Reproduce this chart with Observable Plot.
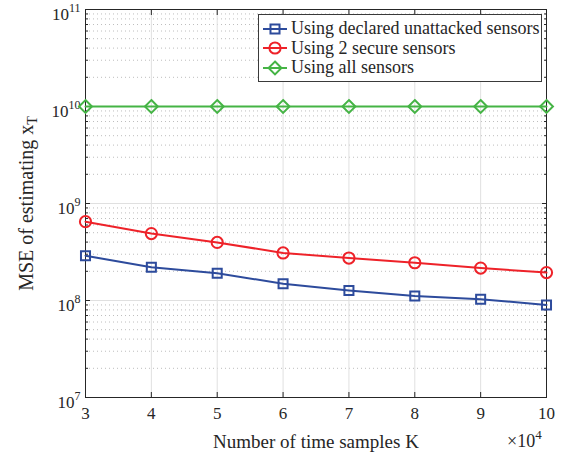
<!DOCTYPE html>
<html>
<head>
<meta charset="utf-8">
<script src="https://cdn.jsdelivr.net/npm/d3@7"></script>
<script src="https://cdn.jsdelivr.net/npm/@observablehq/plot@0.6"></script>
<style>
  body { margin: 0; background: #fff; }
  #wrap { position: relative; width: 564px; height: 452px; overflow: hidden; font-family: "Liberation Serif", "Times New Roman", serif; color: #262626; }
  #legend { position: absolute; left: 258px; top: 14px; width: 284px; height: 68px; box-sizing: border-box;
            border: 1px solid #3a3a3a; background: #fff; padding-top: 4px; }
  .row { display: flex; align-items: center; height: 19.5px; font-size: 18px; white-space: nowrap; }
  .row svg { margin-left: 3px; margin-right: 3px; flex: none; }
  #mult { position: absolute; left: 507px; top: 435px; font-size: 18px; line-height: 12px; white-space: nowrap; }
  #mult sup { font-size: 13px; line-height: 0; vertical-align: 0; position: relative; top: -8px; }
</style>
</head>
<body>
<div id="wrap"><div id="legend"></div><div id="mult"></div></div>
<script>
// ---- data ----
const K = [3, 4, 5, 6, 7, 8, 9, 10];
const xTickLabels = ["3", "4", "5", "6", "7", "8", "9", "10"];
const mseDeclared = [2.9e8, 2.2e8, 1.91e8, 1.49e8, 1.27e8, 1.11e8, 1.03e8, 9.0e7];
const mseSecure   = [6.5e8, 4.9e8, 3.97e8, 3.09e8, 2.74e8, 2.45e8, 2.16e8, 1.94e8];
const mseAll      = [1.0e10, 1.0e10, 1.0e10, 1.0e10, 1.0e10, 1.0e10, 1.0e10, 1.0e10];
const seriesNames = ["Using declared unattacked sensors", "Using 2 secure sensors", "Using all sensors"];
const seriesColors = ["#2d4b9c", "#ee2229", "#45b445"];
const seriesSymbols = ["square", "circle", "diamond2"];
const yDecades = [1e7, 1e8, 1e9, 1e10, 1e11];
const xLabel = "Number of time samples K";
const yLabel = "MSE of estimating x";
const yLabelSub = "T";
const xMultiplierBase = "×10";
const xMultiplierExp = "4";

// ---- derived ----
const yMinor = d3.range(7, 11).flatMap(e => d3.range(2, 10).map(m => m * 10 ** e));
const seriesValues = [mseDeclared, mseSecure, mseAll];
const rows = seriesValues.flatMap((vals, i) => K.map((k, j) => ({K: k, mse: vals[j], series: seriesNames[i]})));
const symR = {square: 5.1, circle: 5.6, diamond2: 5.8};
const ink = "#262626";
const serif = "'Liberation Serif', 'Times New Roman', serif";
const blank = () => "";

const seriesMarks = seriesNames.flatMap((name, i) => {
  const d = rows.filter(r => r.series === name);
  return [
    Plot.line(d, {x: "K", y: "mse", stroke: seriesColors[i], strokeWidth: 2}),
    Plot.dot(d, {x: "K", y: "mse", stroke: seriesColors[i], symbol: seriesSymbols[i], r: symR[seriesSymbols[i]], strokeWidth: 2, fill: "none"})
  ];
});

const plot = Plot.plot({
  width: 564,
  height: 452,
  marginLeft: 85,
  marginRight: 18,
  marginTop: 9,
  marginBottom: 55,
  style: {fontFamily: serif, fontSize: "17px", color: ink, background: "white", overflow: "visible"},
  x: {domain: [3, 10]},
  y: {type: "log", domain: [1e7, 1e11]},
  marks: [
    Plot.gridY(yMinor, {stroke: "#bdbdbd", strokeOpacity: 1, strokeDasharray: "1,3", strokeWidth: 1}),
    Plot.gridY(yDecades, {stroke: "#e0e0e0", strokeOpacity: 1}),
    Plot.gridX(K, {stroke: "#e0e0e0", strokeOpacity: 1}),
    Plot.axisX(K, {anchor: "bottom", tickSize: 0, tickPadding: 9, fill: ink, tickFormat: d => xTickLabels[K.indexOf(d)],
      label: xLabel, labelAnchor: "center", labelOffset: 50, labelArrow: "none"}),
    Plot.axisX(K, {anchor: "bottom", tickSize: -5, tickPadding: 0, tickFormat: blank, label: null, stroke: ink}),
    Plot.axisX(K, {anchor: "top", tickSize: -5, tickPadding: 0, tickFormat: blank, label: null, stroke: ink}),
    Plot.axisY(yDecades, {anchor: "left", tickSize: 0, tickPadding: 5, fill: ink, tickFormat: d => String(Math.round(Math.log10(d))),
      label: yLabel, labelAnchor: "center", labelOffset: 67, labelArrow: "none"}),
    Plot.axisY(yDecades, {anchor: "left", tickSize: -5, tickPadding: 0, tickFormat: blank, label: null, stroke: ink}),
    Plot.axisY(yMinor, {anchor: "left", tickSize: -3, tickPadding: 0, tickFormat: blank, label: null, stroke: ink}),
    Plot.axisY(yDecades, {anchor: "right", tickSize: -5, tickPadding: 0, tickFormat: blank, label: null, stroke: ink}),
    Plot.axisY(yMinor, {anchor: "right", tickSize: -3, tickPadding: 0, tickFormat: blank, label: null, stroke: ink}),
    Plot.frame({stroke: ink, strokeWidth: 1}),
    ...seriesMarks
  ]
});

const svg = d3.select(plot);
svg.selectAll("text").style("font-family", serif).style("font-size", "17px").style("fill", ink);
// y tick labels: 10^n
svg.selectAll('g[aria-label="y-axis tick label"] text').each(function () {
  const e = this.textContent;
  if (!e) return;
  const t = d3.select(this);
  t.text(null);
  t.append("tspan").attr("dy", "5").text("10");
  t.append("tspan").attr("dy", "-8").style("font-size", "12px").text(e);
});
// y axis label with subscript
svg.selectAll('g[aria-label="y-axis label"] text').each(function () {
  const t = d3.select(this);
  t.style("font-size", "20px");
  t.append("tspan").attr("dy", "4").style("font-size", "14px").text(yLabelSub);
});
svg.selectAll('g[aria-label="x-axis label"] text').style("font-size", "19px");

document.getElementById("wrap").prepend(plot);

// legend
const legend = d3.select("#legend");
seriesNames.forEach((name, i) => {
  const row = legend.append("div").attr("class", "row");
  const s = row.append("svg").attr("width", 26).attr("height", 16);
  s.append("line").attr("x1", 1).attr("x2", 25).attr("y1", 8).attr("y2", 8)
    .attr("stroke", seriesColors[i]).attr("stroke-width", 2);
  const sym = {square: d3.symbolSquare, circle: d3.symbolCircle, diamond2: d3.symbolDiamond2}[seriesSymbols[i]];
  const r = symR[seriesSymbols[i]];
  s.append("path").attr("transform", "translate(13,8)")
    .attr("d", d3.symbol(sym, r * r * Math.PI)())
    .attr("fill", "none").attr("stroke", seriesColors[i]).attr("stroke-width", 2);
  row.append("span").text(name);
});
d3.select("#mult").html(null).call(m => { m.append("span").text(xMultiplierBase); m.append("sup").text(xMultiplierExp); });
</script>
</body>
</html>
